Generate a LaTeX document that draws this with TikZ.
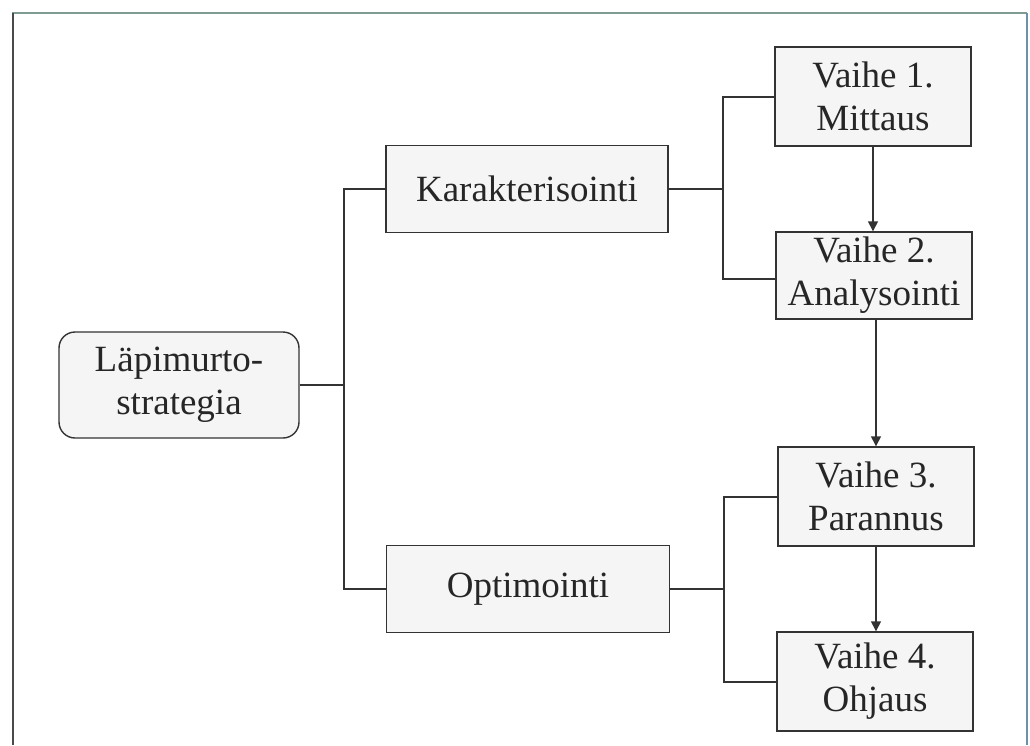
\documentclass[tikz,border=0pt]{standalone}
\usepackage{fontspec}
\setmainfont{Liberation Serif}
\usetikzlibrary{arrows.meta}
\definecolor{boxfill}{HTML}{F5F5F5}
\definecolor{linec}{HTML}{333333}
\definecolor{frametop}{HTML}{7E9C94}
\definecolor{frameleft}{HTML}{4A4A4A}
\definecolor{frameright}{HTML}{6F8FA8}
\tikzset{
  box/.style={draw=linec, fill=boxfill, line width=1.4pt, inner sep=0pt, align=center,
    font=\fontsize{37}{43}\selectfont, text=black!85},
  conn/.style={draw=linec, line width=1.4pt},
  arr/.style={conn, -{Triangle[length=10pt,width=10pt]}},
}
\begin{document}
\begin{tikzpicture}[x=1pt,y=-1pt]
\useasboundingbox (0,0) rectangle (1030,745);
% frame
\draw[frametop, line width=2pt] (12,13) -- (1027,13);
\draw[frameleft, line width=2pt] (13,13) -- (13,745);
\draw[frameright, line width=2pt] (1027,13) -- (1027,745);
% nodes
\node[box, rounded corners=16pt, minimum width=240pt, minimum height=106pt] (lap) at (179,385) {Läpimurto-\\strategia};
\node[box, minimum width=282pt, minimum height=87pt] (kar) at (527,189) {Karakterisointi};
\node[box, minimum width=283pt, minimum height=87pt] (opt) at (528,589) {Optimointi};
\node[box, minimum width=196pt, minimum height=99pt] (v1) at (873,96.5) {Vaihe 1.\\Mittaus};
\node[box, minimum width=196pt, minimum height=87pt] (v2) at (874,275.5) {Vaihe 2.\\Analysointi};
\node[box, minimum width=196pt, minimum height=99pt] (v3) at (876,496.5) {Vaihe 3.\\Parannus};
\node[box, minimum width=196pt, minimum height=99pt] (v4) at (875,681.5) {Vaihe 4.\\Ohjaus};
% connectors
\coordinate (jl) at (344,385);
\draw[conn] (lap.east) -- (jl);
\draw[conn] (kar.west) -- (344,189) -- (344,589) -- (opt.west);
\draw[conn] (kar.east) -- (723,189);
\draw[conn] (v1.west |- 0,97) -- (723,97) -- (723,279) -- (v2.west |- 0,279);
\draw[conn] (opt.east) -- (724,589);
\draw[conn] (v3.west |- 0,497) -- (724,497) -- (724,682) -- (v4.west |- 0,682);
\draw[arr] (v1.south) -- (v1.south |- v2.north);
\draw[arr] (876,319) -- (v3.north);
\draw[arr] (v3.south) -- (v3.south |- v4.north);
\end{tikzpicture}
\end{document}
